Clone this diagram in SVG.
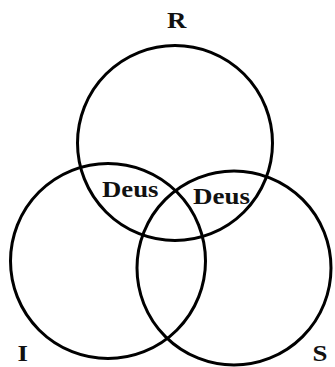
<svg xmlns="http://www.w3.org/2000/svg" width="335" height="367" viewBox="0 0 335 367">
<style>
.c{fill:none;stroke:#000;stroke-width:3}
.t{font-family:"Liberation Serif","Times New Roman",serif;font-weight:bold;font-size:24px;fill:#111}
</style>
<rect width="335" height="367" fill="#fff"/>
<g id="R">
<circle class="c" cx="175" cy="143" r="97.5"/>
<text class="t" transform="translate(167,28) scale(1.12,1)">R</text>
</g>
<g id="I">
<circle class="c" cx="108" cy="261" r="97.5"/>
<text class="t" transform="translate(17.5,361) scale(1.12,1)">I</text>
</g>
<g id="S">
<circle class="c" cx="234" cy="268" r="97"/>
<text class="t" font-size="23" transform="translate(312.5,361) scale(1.12,1)">S</text>
</g>
<g id="deus1">
<text class="t" x="102" y="197" textLength="56.5" lengthAdjust="spacingAndGlyphs">Deus</text>
</g>
<g id="deus2">
<text class="t" x="193" y="203.5" textLength="57" lengthAdjust="spacingAndGlyphs">Deus</text>
</g>
</svg>
